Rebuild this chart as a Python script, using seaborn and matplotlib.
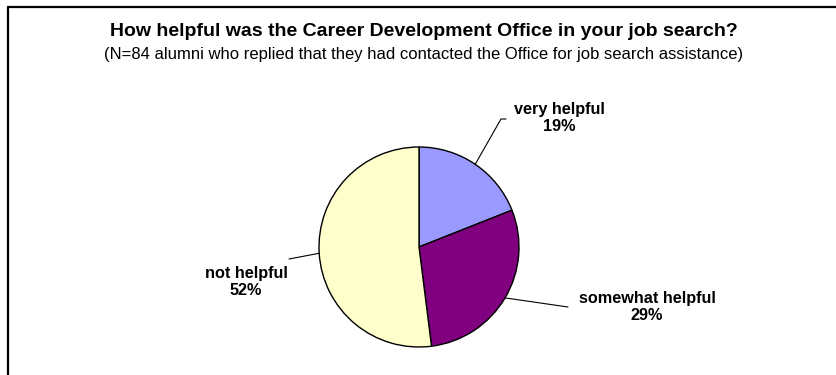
import matplotlib
matplotlib.use("Agg")
import matplotlib.pyplot as plt
from matplotlib.lines import Line2D
import numpy as np
import seaborn as sns

# Survey answers (percent of respondents)
categories = ["very helpful", "somewhat helpful", "not helpful"]
shares = [19, 29, 52]
slice_colors = ["#9999FF", "#800080", "#FFFFCC"]

title = "How helpful was the Career Development Office in your job search?"
subtitle = "(N=84 alumni who replied that they had contacted the Office for job search assistance)"

sns.set_theme(style="white")
plt.rcParams["font.family"] = ["Liberation Sans", "DejaVu Sans"]
plt.rcParams["text.color"] = "black"

W, H = 836, 375
fig = plt.figure(figsize=(W / 100, H / 100), dpi=100)
fig.patch.set_facecolor("white")

# Pie axes: centre (419, 247) px, radius 100 px
cx, cy, r = 419, 247, 100
ax = fig.add_axes([(cx - r) / W, (H - cy - r) / H, 2 * r / W, 2 * r / H])
ax.axis("off")

wedges, _ = ax.pie(
    shares,
    colors=slice_colors,
    startangle=90,
    counterclock=False,
    radius=1,
    wedgeprops=dict(edgecolor="black", linewidth=1.0),
    frame=False,
)
ax.set_xlim(-1, 1)
ax.set_ylim(-1, 1)
ax.set_aspect("equal")


def px2d(px, py):
    return (px - cx) / r, (cy - py) / r


# Label placement (text centre) and leader-line path, in pixels
label_pos = [(559, 118), (647, 307), (246, 282)]
leader_pts = [
    [(506, 119), (501, 119)],
    [(568, 307)],
    [(289, 259)],
]

for w, cat, val, (lx, ly), pts in zip(wedges, categories, shares, label_pos, leader_pts):
    mid = np.deg2rad((w.theta1 + w.theta2) / 2)
    ex, ey = np.cos(mid), np.sin(mid)
    path = [px2d(*p) for p in pts] + [(ex, ey)]
    xs, ys = zip(*path)
    ax.add_line(Line2D(xs, ys, color="black", linewidth=0.8, clip_on=False))
    tx, ty = px2d(lx, ly)
    ax.text(tx, ty, f"{cat}\n{val}%", ha="center", va="center", color="black",
            fontsize=11.7, fontweight="bold", linespacing=1.2, clip_on=False)

fig.text(424 / W, 1 - 32 / H, title, ha="center", va="center", color="black",
         fontsize=14, fontweight="bold")
fig.text(424 / W, 1 - 55 / H, subtitle, ha="center", va="center", color="black",
         fontsize=12)

# Chart-area border (left and top edges)
fig.add_artist(Line2D([7.5 / W, 1.0], [1 - 6.7 / H, 1 - 6.7 / H],
                      transform=fig.transFigure, color="black", linewidth=1.6))
fig.add_artist(Line2D([7.5 / W, 7.5 / W], [0.0, 1 - 6.7 / H],
                      transform=fig.transFigure, color="black", linewidth=1.6))

fig.savefig("out.png", dpi=100)
